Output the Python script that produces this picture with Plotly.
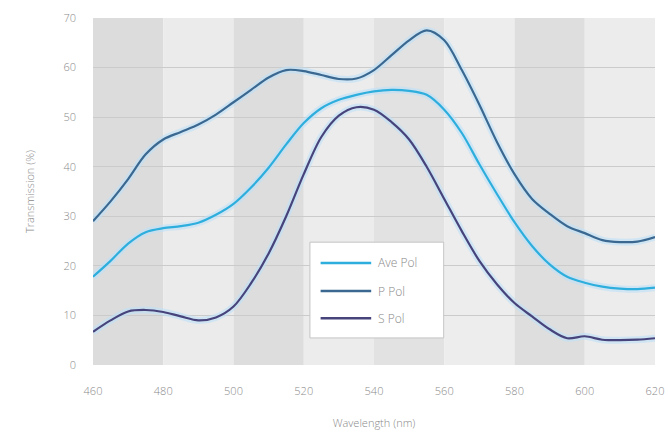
import plotly.graph_objects as go

wavelength = [460, 465, 470, 475, 480, 485, 490, 495, 500, 505, 510, 515, 520, 525, 530,
              535, 540, 545, 550, 555, 560, 565, 570, 575, 580, 585, 590, 595, 600, 605,
              610, 615, 620]
ave_pol = [17.8, 21.0, 24.5, 26.8, 27.6, 28.0, 28.7, 30.3, 32.5, 35.8, 39.8, 44.5, 48.8, 51.8,
           53.5, 54.5, 55.2, 55.5, 55.3, 54.5, 51.5, 46.8, 40.5, 34.5, 28.8, 24.0, 20.3, 17.8,
           16.6, 15.8, 15.4, 15.3, 15.6]
p_pol = [29.0, 33.0, 37.5, 42.5, 45.5, 47.0, 48.5, 50.5, 53.0, 55.5, 58.0, 59.5, 59.3, 58.5,
         57.7, 57.8, 59.5, 62.5, 65.5, 67.5, 65.5, 59.5, 52.5, 45.0, 38.5, 33.5, 30.5, 28.0,
         26.6, 25.2, 24.8, 24.9, 25.8]
s_pol = [6.7, 9.0, 10.8, 11.1, 10.7, 9.8, 9.0, 9.6, 11.8, 16.5, 22.5, 30.0, 38.5, 46.0, 50.3,
         52.0, 51.5, 49.0, 45.5, 40.0, 33.5, 27.0, 21.0, 16.3, 12.5, 9.8, 7.2, 5.4, 5.8, 5.1,
         5.0, 5.1, 5.4]

series_names = ["Ave Pol", "P Pol", "S Pol"]
series_values = [ave_pol, p_pol, s_pol]
series_colors = ["#2eaedc", "#3b6890", "#47447c"]

band_edges = [460, 480, 500, 520, 540, 560, 580, 600, 620]
band_colors = ["#dcdcdc", "#ebebeb", "#dddddd", "#ececec", "#e2e2e2", "#ededed", "#dedede", "#ececec"]

x_ticks = [460, 480, 500, 520, 540, 560, 580, 600, 620]
y_ticks = [0, 10, 20, 30, 40, 50, 60, 70]

fig = go.Figure()

# halos
for vals in series_values:
    fig.add_trace(go.Scatter(x=wavelength, y=vals, mode="lines",
                             line=dict(color="rgba(190,225,248,0.6)", width=7, shape="spline", smoothing=0.9),
                             showlegend=False, hoverinfo="skip"))
for name, vals, col in zip(series_names, series_values, series_colors):
    fig.add_trace(go.Scatter(x=wavelength, y=vals, mode="lines", name=name,
                             line=dict(color=col, width=2.2, shape="spline", smoothing=0.9),
                             showlegend=False))

shapes = []
for i in range(len(band_edges) - 1):
    shapes.append(dict(type="rect", xref="x", yref="y", x0=band_edges[i], x1=band_edges[i + 1],
                       y0=0, y1=70, fillcolor=band_colors[i], line=dict(width=0), layer="below"))

# manual legend
lx0, lx1, ly0, ly1 = 0.386, 0.624, 0.354, 0.078
shapes.append(dict(type="rect", xref="paper", yref="paper", x0=lx0, x1=lx1, y0=ly1, y1=ly0,
                   fillcolor="white", line=dict(color="#c4c4c4", width=1), layer="above"))
annotations = []
ys = [0.294, 0.213, 0.135]
for name, col, yy in zip(series_names, series_colors, ys):
    shapes.append(dict(type="line", xref="paper", yref="paper", x0=0.405, x1=0.495, y0=yy, y1=yy,
                       line=dict(color=col, width=2.5), layer="above"))
    annotations.append(dict(xref="paper", yref="paper", x=0.503, y=yy, text=name, showarrow=False,
                            xanchor="left", yanchor="middle",
                            font=dict(family="Open Sans", size=12, color="#8a8a8a", weight=300)))

fig.update_layout(
    width=668, height=440,
    margin=dict(l=93, r=13, t=18, b=75),
    paper_bgcolor="white", plot_bgcolor="white",
    shapes=shapes, annotations=annotations,
    font=dict(family="Open Sans", color="#8a8a8a", size=11, weight=300),
    showlegend=False,
)
fig.update_xaxes(range=[460, 620], tickvals=x_ticks, showgrid=False, zeroline=False,
                 ticks="", ticklabelstandoff=18, automargin=False,
                 title=dict(text="Wavelength (nm)", font=dict(size=11, color="#8a8a8a", weight=300), standoff=22))
fig.update_yaxes(range=[0, 70], tickvals=y_ticks, showgrid=True, gridcolor="#cbcbcb", gridwidth=1,
                 zeroline=False, ticks="", ticklabelstandoff=16, automargin=False,
                 title=dict(text="Transmission (%)", font=dict(size=11, color="#8a8a8a", weight=300), standoff=26))

fig.write_html("out.html")
